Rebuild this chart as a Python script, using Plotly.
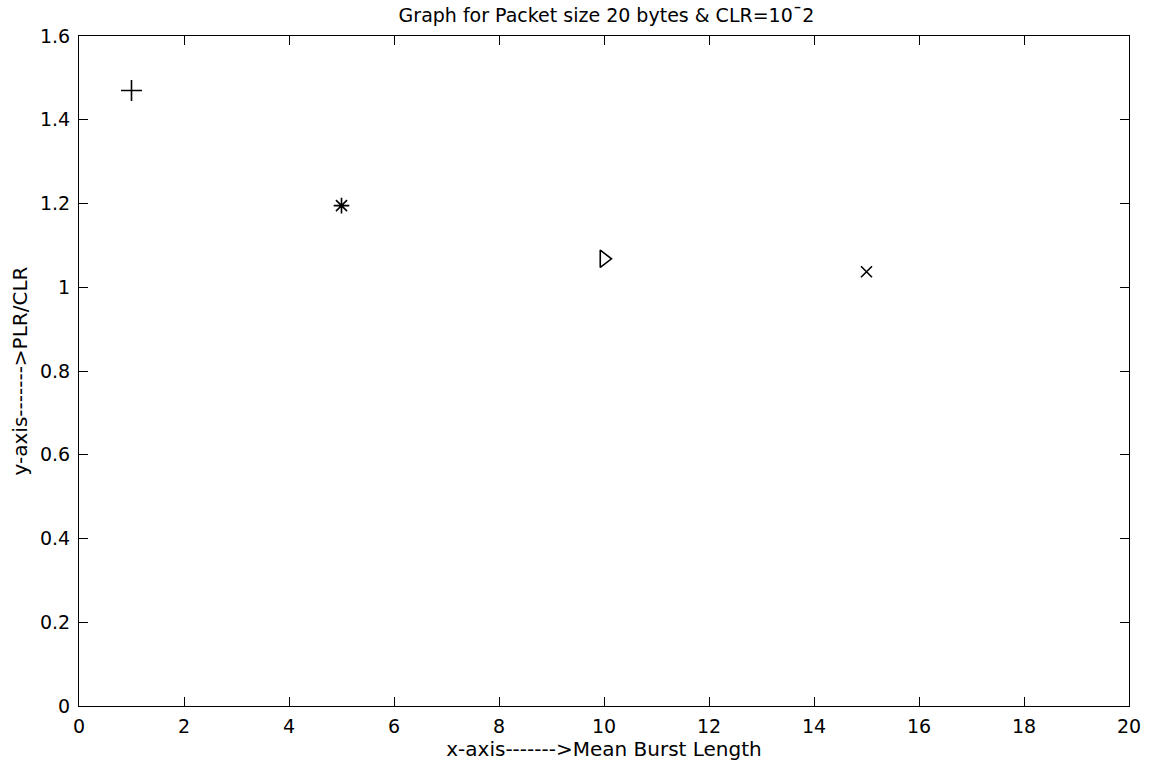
import plotly.graph_objects as go

burst_length = [1, 5, 10, 15]
plr_clr = [1.47, 1.195, 1.068, 1.037]
symbols = ["cross-thin-open", "asterisk-open", "triangle-right-open", "x-thin-open"]
marker_sizes = [15, 13, 15, 11]
x_ticks = [0, 2, 4, 6, 8, 10, 12, 14, 16, 18, 20]
y_ticks = [0, 0.2, 0.4, 0.6, 0.8, 1, 1.2, 1.4, 1.6]
y_tick_text = ["0", "0.2", "0.4", "0.6", "0.8", "1", "1.2", "1.4", "1.6"]

fig = go.Figure()
for xv, yv, sym, sz in zip(burst_length, plr_clr, symbols, marker_sizes):
    fig.add_trace(go.Scatter(
        x=[xv], y=[yv], mode="markers",
        marker=dict(symbol=sym, size=sz, color="black",
                    line=dict(color="black", width=1.6)),
        showlegend=False))

FONT = "DejaVu Sans, Liberation Sans, sans-serif"
tickfont = dict(family=FONT, size=19, color="black")
fig.update_layout(
    width=1153, height=765,
    paper_bgcolor="white", plot_bgcolor="white",
    margin=dict(l=79, r=20, t=36, b=57),
    font=dict(family=FONT, size=19, color="black"),
    title=dict(text="Graph for Packet size 20 bytes & CLR=10¯2",
               x=0.526, xanchor="center", y=1 - 15 / 765, yanchor="middle",
               font=dict(family=FONT, size=19, color="black")),
    xaxis=dict(range=[0, 20], tickvals=x_ticks, ticks="inside", ticklen=9,
               tickfont=tickfont, ticklabelstandoff=3,
               showgrid=False, zeroline=False, showline=True, linecolor="black",
               linewidth=1.2, mirror="ticks", tickcolor="black", tickwidth=1.2,
               title=dict(text="x-axis------->Mean Burst Length", standoff=2,
                          font=dict(family=FONT, size=20, color="black"))),
    yaxis=dict(range=[0, 1.6], tickvals=y_ticks, ticktext=y_tick_text,
               ticks="inside", ticklen=9, tickfont=tickfont, ticklabelstandoff=4,
               showgrid=False, zeroline=False, showline=True, linecolor="black",
               linewidth=1.2, mirror="ticks", tickcolor="black", tickwidth=1.2,
               title=dict(text="y-axis------->PLR/CLR", standoff=6,
                          font=dict(family=FONT, size=20, color="black"))),
)
fig.write_html("out.html", config={"displayModeBar": False},
               post_script="document.body.style.margin='0px';")
